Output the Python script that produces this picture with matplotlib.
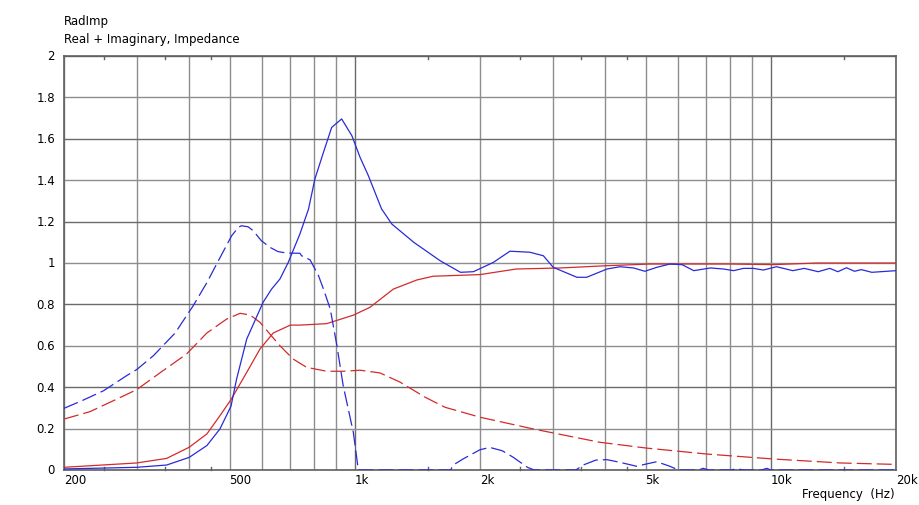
import matplotlib
matplotlib.use("Agg")
import matplotlib.pyplot as plt
import numpy as np

# ---------------- data ----------------
blue_real_f = [200, 299, 353, 400, 441, 474, 504, 520, 550, 602, 631, 661, 692, 738, 774, 802, 841, 880,
               930, 984, 1030, 1078, 1160, 1228, 1386, 1604, 1795, 1928, 2154, 2360, 2636, 2840, 3000,
               3420, 3610, 4040, 4340, 4680, 4980, 5320, 5720, 6120, 6530, 7160, 7700, 8140, 8600, 9080,
               9600, 10320, 11300, 12040, 13000, 13860, 14500, 15200, 15900, 16500, 17500, 20000]
blue_real_v = [0.005, 0.013, 0.024, 0.061, 0.118, 0.198, 0.308, 0.44, 0.633, 0.81, 0.874, 0.923, 1.003,
               1.14, 1.26, 1.406, 1.535, 1.655, 1.696, 1.615, 1.51, 1.422, 1.261, 1.188, 1.10, 1.011,
               0.955, 0.958, 1.003, 1.057, 1.052, 1.035, 0.979, 0.931, 0.931, 0.971, 0.982, 0.976, 0.96,
               0.979, 0.995, 0.992, 0.963, 0.976, 0.971, 0.963, 0.974, 0.974, 0.966, 0.982, 0.963,
               0.974, 0.958, 0.974, 0.958, 0.977, 0.96, 0.968, 0.955, 0.963]

red_real_f = [200, 299, 353, 400, 425, 441, 474, 504, 550, 592, 637, 700, 738, 856, 992, 1088, 1238, 1410,
              1542, 2000, 2445, 3120, 4040, 5130, 8000, 10160, 12900, 20000]
red_real_v = [0.013, 0.034, 0.056, 0.11, 0.15, 0.174, 0.262, 0.34, 0.472, 0.585, 0.662, 0.70, 0.70, 0.707,
              0.748, 0.786, 0.874, 0.918, 0.936, 0.944, 0.971, 0.976, 0.987, 0.995, 0.995, 0.992, 1.0, 1.0]

blue_imag_f = [200, 221, 249, 283, 299, 328, 370, 409, 441, 470, 506, 525, 534, 554, 570, 596, 625, 654,
               687, 738, 745, 781, 818, 841, 873, 906, 938, 992, 1020, 1700, 1724, 1820, 2000, 2112, 2262,
               2406, 2600, 2700, 3400, 3540, 3800, 4040, 4340, 4760, 5020, 5320, 5720, 6000, 6700, 6880,
               7100, 8000, 8300, 8600, 9500, 9780, 10000, 20000]
blue_imag_v = [0.298, 0.335, 0.383, 0.456, 0.485, 0.552, 0.662, 0.794, 0.905, 1.011, 1.132, 1.172, 1.18,
               1.175, 1.156, 1.108, 1.076, 1.055, 1.048, 1.047, 1.035, 1.015, 0.939, 0.874, 0.778, 0.60,
               0.407, 0.182, 0.0, 0.0, 0.024, 0.053, 0.098, 0.109, 0.093, 0.061, 0.013, 0.0, 0.0, 0.024,
               0.048, 0.05, 0.037, 0.018, 0.029, 0.04, 0.018, 0.0, 0.0, 0.008, 0.0, 0.0, 0.006, 0.0, 0.0,
               0.008, 0.0, 0.0]

red_imag_f = [200, 231, 263, 299, 340, 394, 441, 492, 530, 560, 592, 625, 661, 711, 766, 856, 938, 1030,
              1150, 1286, 1478, 1648, 2000, 2690, 3880, 5020, 7030, 10160, 14700, 20000]
red_imag_v = [0.246, 0.282, 0.335, 0.388, 0.469, 0.56, 0.662, 0.729, 0.757, 0.749, 0.713, 0.657, 0.60,
              0.536, 0.496, 0.477, 0.477, 0.482, 0.469, 0.424, 0.351, 0.303, 0.255, 0.198, 0.134, 0.106,
              0.077, 0.053, 0.034, 0.027]

x_tick_vals = [200, 500, 1000, 2000, 5000, 10000, 20000]
x_tick_labels = ["200", "500", "1k", "2k", "5k", "10k", "20k"]
y_tick_vals = [0, 0.2, 0.4, 0.6, 0.8, 1, 1.2, 1.4, 1.6, 1.8, 2]
y_tick_labels = ["0", "0.2", "0.4", "0.6", "0.8", "1", "1.2", "1.4", "1.6", "1.8", "2"]

# ---------------- figure ----------------
W, H = 919, 506
fig = plt.figure(figsize=(W / 100, H / 100), dpi=100)
L, R, T, B = 64, 896, 57, 471
ax = fig.add_axes([L / W, (H - B) / H, (R - L) / W, (B - T) / H])
ax.set_xscale("log")
ax.set_xlim(200, 20000)
ax.set_ylim(0, 2)

BLUE = "#2a2ad8"
RED = "#d42a2a"
GRID_L = "#8e8e8e"
GRID_D = "#6a6a6a"

# grid lines
vlines = [v for dec in (100, 1000, 10000) for v in [dec * k for k in range(1, 10)] if 200 <= v <= 20000]
for v in vlines:
    dark = v in (1000, 10000)
    ax.axvline(v, color=GRID_D if dark else GRID_L, lw=1.0, zorder=1)
for i, y in enumerate(y_tick_vals):
    ax.axhline(y, color=GRID_D if i % 2 == 0 else GRID_L, lw=1.0, zorder=1)

# curves
ax.plot(red_real_f, red_real_v, color=RED, lw=0.9, zorder=3)
ax.plot(red_imag_f, red_imag_v, color=RED, lw=0.9, dashes=(12, 4), zorder=3)
ax.plot(blue_real_f, blue_real_v, color=BLUE, lw=0.9, zorder=4)
ax.plot(blue_imag_f, blue_imag_v, color=BLUE, lw=0.9, dashes=(12, 4), zorder=4)

# spines
for s in ax.spines.values():
    s.set_color("#606060")
    s.set_linewidth(1.2)

# ticks
ax.set_xticks([])
ax.set_xticks([], minor=True)
ax.set_yticks([])
minor_marks = [250, 350, 450, 1500, 2500, 3500, 4500, 15000]
for m in minor_marks:
    ax.plot([m, m], [0, 0.015], color="#606060", lw=1.0, zorder=2, clip_on=False)
    ax.plot([m, m], [2, 2 - 0.015], color="#606060", lw=1.0, zorder=2, clip_on=False)

fs = 8.5
for v, lab in zip(x_tick_vals, x_tick_labels):
    ax.text(v, -0.045, lab, ha="left", va="center", fontsize=fs, color="black", clip_on=False)
for v, lab in zip(y_tick_vals, y_tick_labels):
    ax.annotate(lab, xy=(0, v), xycoords=("axes fraction", "data"), xytext=(-9, 0),
                textcoords="offset pixels", ha="right", va="center", fontsize=fs, color="black")

fig.text(L / W, 1 - 22 / H, "RadImp", ha="left", va="center", fontsize=fs, color="black")
fig.text(L / W, 1 - 39 / H, "Real + Imaginary, Impedance", ha="left", va="center", fontsize=fs, color="black")
fig.text(895 / W, 1 - 495 / H, "Frequency  (Hz)", ha="right", va="center", fontsize=fs, color="black")

fig.savefig("out.png", dpi=100, facecolor="white")
